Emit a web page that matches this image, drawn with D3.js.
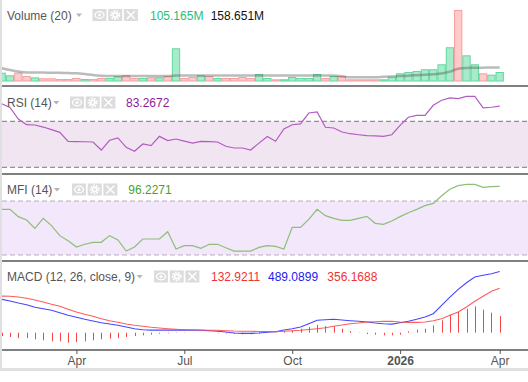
<!DOCTYPE html>
<html><head><meta charset="utf-8">
<script src="https://cdn.jsdelivr.net/npm/d3@7"></script>
<style>
html,body{margin:0;padding:0;background:#fff;}
svg{display:block;font-family:"Liberation Sans",Arial,sans-serif;}
</style></head><body>
<svg id="c" width="528" height="382"></svg>
<script>
// ---- data (weekly bars, index 0..60) ----
const volume = [97,67,97,58,43,32,32,23,23,35,23,23,35,35,55,67,35,35,43,43,58,382,35,47,67,58,35,35,35,47,35,82,35,20,20,47,35,35,82,35,58,58,20,20,20,20,20,50,90,105,117,137,137,195,394,829,300,195,90,74,105.165];
const volumeDir = ["u","u","d","d","u","d","d","d","d","d","u","d","d","u","u","d","d","u","d","u","d","u","d","d","u","d","u","d","d","d","d","u","u","d","u","u","u","u","u","d","u","d","d","d","d","d","u","u","u","u","u","u","u","u","u","d","u","u","d","u","u"];
const volumeMA = [148,128,111,100,99,98,97,95,92,90,82,70,62,58,58,58,58,58,58,58,58,65,65,65,65,65,65,65,65,65,65,65,65,65,65,65,65,65,65,65,65,56,44,44,44,44,49,54,58,62,68,74,79,88,109,144,152,154,156,157,158.651];
const rsi = [85.3,82,72,67.1,66.8,65,62.7,60.4,52.6,52.4,52.2,52,45,53.5,55.5,47.4,43.9,50.3,48.8,56.9,53.2,54.6,52.8,51.1,52.6,52.4,52,48.3,46.8,46.8,45,51,56.8,52.6,63.3,67,67.7,77.2,78.1,64.8,64.2,60.7,59.2,58.3,57.5,57.3,56.9,58.3,66.5,73.5,75.2,75.2,83.9,88.3,90.3,89.7,91.7,91.7,81.6,82.2,83.2672];
const mfi = [70.7,70.7,62.6,58.9,49.6,60.7,52.6,41.5,35.9,28.9,31.9,34.1,34.1,41.5,36.7,24.4,28.9,37.8,37.8,37.8,45.9,26.7,30.4,30.4,27.4,31.9,31.9,28,24.4,24.4,24.4,28.5,30.4,29.6,26.7,50.7,50.7,59.6,70.7,63.7,60.7,58.5,58.5,60.7,63,55.2,54.1,57.8,62.6,67,70.7,74.8,77.4,85.9,93,97,98.5,98.5,95.2,95.9,96.2271];
const macd = [267,253,237,224,203,192,179,160,139,123,107,93,80,69,59,45,32,24,21,21,21,21,21,20,19,16,11,5,-3,-5,-5,-3,3,8,21,32,45,72,99,104,107,101,96,91,85,77,72,69,80,91,107,125,152,219,285,347,400,445,459,472,489.0899];
const signal = [293,291,285,275,261,245,227,211,187,165,147,131,112,96,83,69,59,51,43,37,32,28,24,23,21,20,19,16,13,12,11,10,9,9,11,15,19,25,32,40,51,61,72,77,85,88,91,91,85,83,83,85,96,112,139,165,205,251,291,331,356.1688];
const hist = [-27,-35,-43,-43,-53,-61,-69,-69,-80,-75,-69,-61,-53,-48,-43,-35,-27,-21,-16,-8,-5,-3,-2,-1,-1,-2,-4,-6,-10,-13,-13,-8,-3,3,13,19,32,45,64,53,51,32,13,-2,-11,-16,-21,-21,-16,11,24,32,59,99,144,165,192,211,184,160,132.9211];
const tickIndex = [9,22,35,48,60];
const tickLabels = ["Apr","Jul","Oct","2026","Apr"];

const svg = d3.select("#c");
const defs = svg.append("defs");
defs.append("clipPath").attr("id","plot").append("rect")
  .attr("x",2).attr("y",0).attr("width",526).attr("height",350);

const n = volume.length;
const x = d3.scaleLinear().domain([0, n-1]).range([1.7, 499.7]);
const bw = x(1) - x(0);
const plot = svg.append("g").attr("clip-path","url(#plot)");

// ---- Volume pane ----
const yV = d3.scaleLinear().domain([0, d3.max(volume)]).range([81, 10]);
plot.append("g").selectAll("rect").data(volume).join("rect")
  .attr("x",(d,i)=>x(i)-bw/2+0.5).attr("width",bw-1)
  .attr("y",d=>yV(d)+0.5).attr("height",d=>Math.max(0.5,yV(0)-yV(d)-0.5))
  .attr("fill",(d,i)=>volumeDir[i]==="u"?"#a7ebcb":"#fecaca")
  .attr("stroke",(d,i)=>volumeDir[i]==="u"?"#62d89f":"#f5a0a0")
  .attr("stroke-width",1);
plot.append("path").datum(volumeMA)
  .attr("d", d3.line().x((d,i)=>x(i)).y(d=>yV(d)).curve(d3.curveMonotoneX))
  .attr("fill","none").attr("stroke","#555").attr("stroke-opacity",0.4).attr("stroke-width",2.5);

// ---- RSI pane ----
const yR = d3.scaleLinear().domain([30,70]).range([167.3,121.3]);
plot.append("rect").attr("x",2).attr("width",526).attr("y",yR(70)).attr("height",yR(30)-yR(70)).attr("fill","#f1e5f2");
[70,30].forEach(v=>plot.append("line").attr("x1",2).attr("x2",528).attr("y1",yR(v)).attr("y2",yR(v))
  .attr("stroke","#7a7a7a").attr("stroke-dasharray","5,3"));
plot.append("path").datum(rsi).attr("d", d3.line().x((d,i)=>x(i)).y(d=>yR(d)))
  .attr("fill","none").attr("stroke","#b45bc3").attr("stroke-width",1.2);

// ---- MFI pane ----
const yM = d3.scaleLinear().domain([20,80]).range([255,201]);
plot.append("rect").attr("x",2).attr("width",526).attr("y",yM(80)).attr("height",yM(20)-yM(80)).attr("fill","#f3e7fc");
[80,20].forEach(v=>plot.append("line").attr("x1",2).attr("x2",528).attr("y1",yM(v)).attr("y2",yM(v))
  .attr("stroke","#b8aebf").attr("stroke-dasharray","5,3"));
plot.append("path").datum(mfi).attr("d", d3.line().x((d,i)=>x(i)).y(d=>yM(d)))
  .attr("fill","none").attr("stroke","#8dbf74").attr("stroke-width",1.2);

// ---- MACD pane ----
const yC = d3.scaleLinear().domain([0,400]).range([332.7,282.7]);
plot.append("g").selectAll("line").data(hist).join("line")
  .attr("x1",(d,i)=>Math.round(x(i))+0.5).attr("x2",(d,i)=>Math.round(x(i))+0.5)
  .attr("y1",yC(0)).attr("y2",d=>yC(d))
  .attr("stroke","#f44848").attr("stroke-width",1);
plot.append("path").datum(macd).attr("d", d3.line().x((d,i)=>x(i)).y(d=>yC(d)))
  .attr("fill","none").attr("stroke","#4646ff").attr("stroke-width",1.1);
plot.append("path").datum(signal).attr("d", d3.line().x((d,i)=>x(i)).y(d=>yC(d)))
  .attr("fill","none").attr("stroke","#ff4a4a").attr("stroke-opacity",0.9).attr("stroke-width",1.1);

// ---- separators & frame ----
[86,174,261].forEach(y=>svg.append("line").attr("x1",2).attr("x2",528).attr("y1",y).attr("y2",y)
  .attr("stroke","#555").attr("stroke-width",1.5));
svg.append("rect").attr("x",0).attr("y",0).attr("width",2).attr("height",371).attr("fill","#e0e0e0");
svg.append("rect").attr("x",0).attr("y",368).attr("width",528).attr("height",3).attr("fill","#e0e0e0");

// ---- time axis ----
const axis = d3.axisBottom(x).tickValues(tickIndex).tickFormat((d,i)=>tickLabels[i]).tickSizeInner(4).tickSizeOuter(0);
const ga = svg.append("g").attr("transform","translate(0,350)").call(axis);
ga.select(".domain").remove();
ga.selectAll(".tick line").attr("stroke","#555");
ga.selectAll(".tick text").attr("y",15).attr("dy",0).attr("fill","#555")
  .style("font-size","12px").style("font-family",'"Liberation Sans",Arial,sans-serif')
  .style("font-weight",(d,i)=>tickLabels[i]==="2026"?"bold":"normal");
svg.append("line").attr("x1",2).attr("x2",528).attr("y1",350).attr("y2",350).attr("stroke","#555").attr("stroke-width",1.5);

// ---- pane headers ----
function header(top, title, triX, iconX, vals){
  const g = svg.append("g");
  const base = top + 19.5;
  g.append("text").attr("x",7).attr("y",base).attr("fill","#555").style("font-size","12px").text(title);
  g.append("path").attr("d",`M${triX},${base-6} l6,0 l-3,3.5 z`).attr("fill","#b5b5b5");
  for(let k=0;k<3;k++){
    const bx = iconX + k*15.7, by = top + 9;
    g.append("rect").attr("x",bx).attr("y",by).attr("width",14).attr("height",12).attr("fill","#dcdcdc");
    const cx = bx+7, cy = by+6;
    if(k===0){
      g.append("ellipse").attr("cx",cx).attr("cy",cy).attr("rx",4.5).attr("ry",3.3).attr("fill","none").attr("stroke","#fff").attr("stroke-width",1.3);
      g.append("circle").attr("cx",cx).attr("cy",cy).attr("r",1.5).attr("fill","#fff");
    } else if(k===1){
      g.append("circle").attr("cx",cx).attr("cy",cy).attr("r",4).attr("fill","none").attr("stroke","#fff").attr("stroke-width",2).attr("stroke-dasharray","1.6,1.2");
      g.append("circle").attr("cx",cx).attr("cy",cy).attr("r",3).attr("fill","#fff");
      g.append("circle").attr("cx",cx).attr("cy",cy).attr("r",1.3).attr("fill","#dcdcdc");
    } else {
      g.append("path").attr("d",`M${cx-4},${cy-4} L${cx+4},${cy+4} M${cx+4},${cy-4} L${cx-4},${cy+4}`).attr("stroke","#fff").attr("stroke-width",1.5);
    }
  }
  vals.forEach(v=>g.append("text").attr("x",v.x).attr("y",base).attr("fill",v.c).style("font-size","12px").text(v.t));
}
header(0, "Volume (20)", 76, 92.5, [{t:"105.165M",x:150,c:"#22c07a"},{t:"158.651M",x:210.7,c:"#111"}]);
header(87.5, "RSI (14)", 53.3, 70, [{t:"83.2672",x:126,c:"#8e1c9a"}]);
header(174.5, "MFI (14)", 54, 72, [{t:"96.2271",x:128.3,c:"#4c9f26"}]);
header(261.5, "MACD (12, 26, close, 9)", 136.7, 154, [{t:"132.9211",x:211,c:"#f03333"},{t:"489.0899",x:268,c:"#2222ee"},{t:"356.1688",x:327.3,c:"#f03333"}]);
</script>
</body></html>
